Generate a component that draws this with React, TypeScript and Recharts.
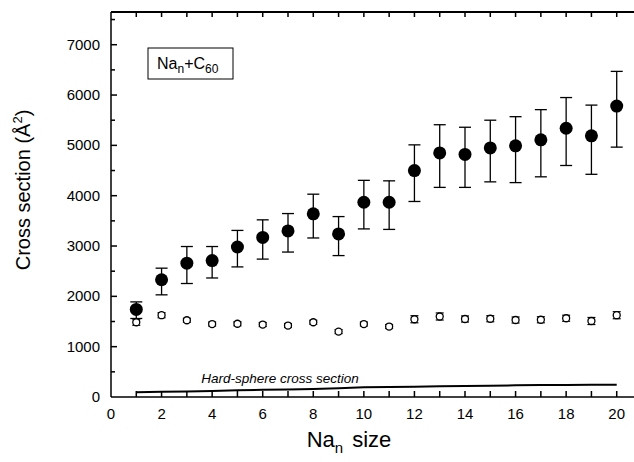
import React from "react";
import {
  ScatterChart,
  Scatter,
  XAxis,
  YAxis,
  ErrorBar,
  Customized,
} from "recharts";

// cluster size n
const sizes = [1, 2, 3, 4, 5, 6, 7, 8, 9, 10, 11, 12, 13, 14, 15, 16, 17, 18, 19, 20];

// measured cross section (filled circles) and error bar ends
const measured = [1740, 2330, 2660, 2710, 2980, 3170, 3300, 3640, 3240, 3870, 3870, 4500, 4850, 4820, 4950, 4990, 5110, 5340, 5190, 5780];
const measuredHigh = [1890, 2560, 2990, 2990, 3310, 3520, 3645, 4030, 3585, 4305, 4295, 5010, 5410, 5360, 5500, 5570, 5710, 5950, 5800, 6470];
const measuredLow = [1560, 2030, 2255, 2365, 2585, 2740, 2880, 3160, 2810, 3340, 3330, 3885, 4165, 4165, 4275, 4260, 4375, 4600, 4425, 4965];

// open circles and their (small) errors
const opened = [1485, 1625, 1525, 1450, 1455, 1440, 1420, 1485, 1300, 1450, 1400, 1545, 1600, 1550, 1555, 1530, 1535, 1565, 1510, 1625];
const openedErr = [60, 50, 40, 40, 40, 40, 40, 40, 40, 40, 40, 70, 70, 60, 60, 60, 60, 60, 70, 70];

// hard-sphere cross section line
const hardSphere = [93, 102, 110, 118, 133, 142, 150, 160, 176, 193, 199, 205, 212, 219, 226, 232, 236, 239, 242, 245];

const xTicks = [0, 1, 2, 3, 4, 5, 6, 7, 8, 9, 10, 11, 12, 13, 14, 15, 16, 17, 18, 19, 20, 21];
const yTicks = [0, 500, 1000, 1500, 2000, 2500, 3000, 3500, 4000, 4500, 5000, 5500, 6000, 6500, 7000, 7500];
const X_MAX = 21;
const Y_MAX = 7650;

const FONT = "'Liberation Sans', Arial, sans-serif";

// chart box
const W = 660;
const H = 462;
const M = { top: 12, right: 18, bottom: 35, left: 51 };
const Y_AXIS_W = 60;
const X_AXIS_H = 30;
const PL = M.left + Y_AXIS_W;
const PT = M.top;
const PW = W - PL - M.right;
const PH = H - PT - M.bottom - X_AXIS_H;

const filledData = sizes.map((n, i) => ({
  x: n,
  y: measured[i],
  err: [measured[i] - measuredLow[i], measuredHigh[i] - measured[i]],
}));
const openData = sizes.map((n, i) => ({ x: n, y: opened[i], err: openedErr[i] }));
const hsData = sizes.map((n, i) => ({ x: n, y: hardSphere[i] }));

const BottomLabel = (props: any) => {
  const { x, y, payload } = props;
  const v = payload.value;
  if (v % 2 !== 0 || v > 20) return <g />;
  return (
    <text x={x} y={y + 22} textAnchor="middle" fontSize={15} fontFamily={FONT} fill="#000">
      {v}
    </text>
  );
};

const LeftLabel = (props: any) => {
  const { x, y, payload } = props;
  const v = payload.value;
  if (v % 1000 !== 0) return <g />;
  return (
    <text x={x - 11} y={y + 5} textAnchor="end" fontSize={15} fontFamily={FONT} fill="#000">
      {v}
    </text>
  );
};

// frame top + inward tick marks as small filled rects, from the tick arrays
const px = (t: number) => PL + (t / X_MAX) * PW;
const py = (t: number) => PT + PH - (t / Y_MAX) * PH;

const Frame = () => (
  <g fill="#000" stroke="none">
    <rect x={PL} y={PT - 1} width={W - PL} height={2} />
    {xTicks.slice(1).map((t) => (
      <rect key={`t${t}`} x={px(t) - 0.75} y={PT} width={1.5} height={5} />
    ))}
    {xTicks.slice(1).map((t) => (
      <rect key={`b${t}`} x={px(t) - 0.75} y={PT + PH - 6} width={1.5} height={6} />
    ))}
    {yTicks.slice(1).map((t) => (
      <rect key={`l${t}`} x={PL} y={py(t) - 0.75} width={t % 1000 === 0 ? 6 : 4} height={1.5} />
    ))}
  </g>
);

const Annotations = () => (
  <g fontFamily={FONT}>
    {Frame()}
    <rect x={148} y={48} width={85} height={31} fill="#fff" stroke="#000" strokeWidth={1} />
    <text x={157} y={69} fontSize={16} fill="#000">
      Na<tspan fontSize={12} dy={4} fill="#000">n</tspan>
      <tspan dy={-4} fill="#000">+C</tspan>
      <tspan fontSize={12} dy={4} fill="#000">60</tspan>
    </text>
    <text x={280} y={383} textAnchor="middle" fontSize={13.5} fontStyle="italic" fill="#000">
      Hard-sphere cross section
    </text>
    <text transform="translate(30,190) rotate(-90)" textAnchor="middle" fontSize={20} fill="#000">
      Cross section (Å<tspan fontSize={13} dy={-8}>2</tspan>
      <tspan dy={8}>)</tspan>
    </text>
    <text x={349} y={447} textAnchor="middle" fontSize={22} fill="#000">
      Na<tspan fontSize={15} dy={6}>n</tspan>
      <tspan dy={-6} dx={9}>size</tspan>
    </text>
  </g>
);

const FilledDot = (props: any) => <circle cx={props.cx} cy={props.cy} r={6.5} fill="#000" />;
const OpenDot = (props: any) => (
  <circle cx={props.cx} cy={props.cy} r={3.5} fill="#fff" stroke="#000" strokeWidth={1.3} />
);
const NoDot = () => <g />;

const axisStroke = { stroke: "#000", strokeWidth: 1.5 };

export default function App() {
  return (
    <div
      style={{
        position: "absolute",
        left: 0,
        top: 0,
        width: 634,
        height: 462,
        overflow: "hidden",
        background: "#fff",
      }}
    >
      <ScatterChart width={W} height={H} margin={M}>
        <XAxis
          xAxisId="bottom"
          type="number"
          dataKey="x"
          domain={[0, X_MAX]}
          ticks={xTicks}
          interval={0}
          height={X_AXIS_H}
          tickSize={0}
          tickMargin={0}
          tickLine={false}
          tick={<BottomLabel />}
          axisLine={axisStroke}
        />
        <YAxis
          type="number"
          dataKey="y"
          domain={[0, Y_MAX]}
          ticks={yTicks}
          interval={0}
          width={Y_AXIS_W}
          tickSize={0}
          tickMargin={0}
          tickLine={false}
          tick={<LeftLabel />}
          axisLine={axisStroke}
        />
        <Scatter
          xAxisId="bottom"
          data={hsData}
          line={{ stroke: "#000", strokeWidth: 2 }}
          shape={<NoDot />}
          isAnimationActive={false}
        />
        <Scatter xAxisId="bottom" data={openData} shape={<OpenDot />} isAnimationActive={false}>
          <ErrorBar dataKey="err" direction="y" width={4} stroke="#000" strokeWidth={1.2} />
        </Scatter>
        <Scatter xAxisId="bottom" data={filledData} shape={<FilledDot />} isAnimationActive={false}>
          <ErrorBar dataKey="err" direction="y" width={6} stroke="#000" strokeWidth={1.3} />
        </Scatter>
        <Customized component={Annotations} />
      </ScatterChart>
    </div>
  );
}
